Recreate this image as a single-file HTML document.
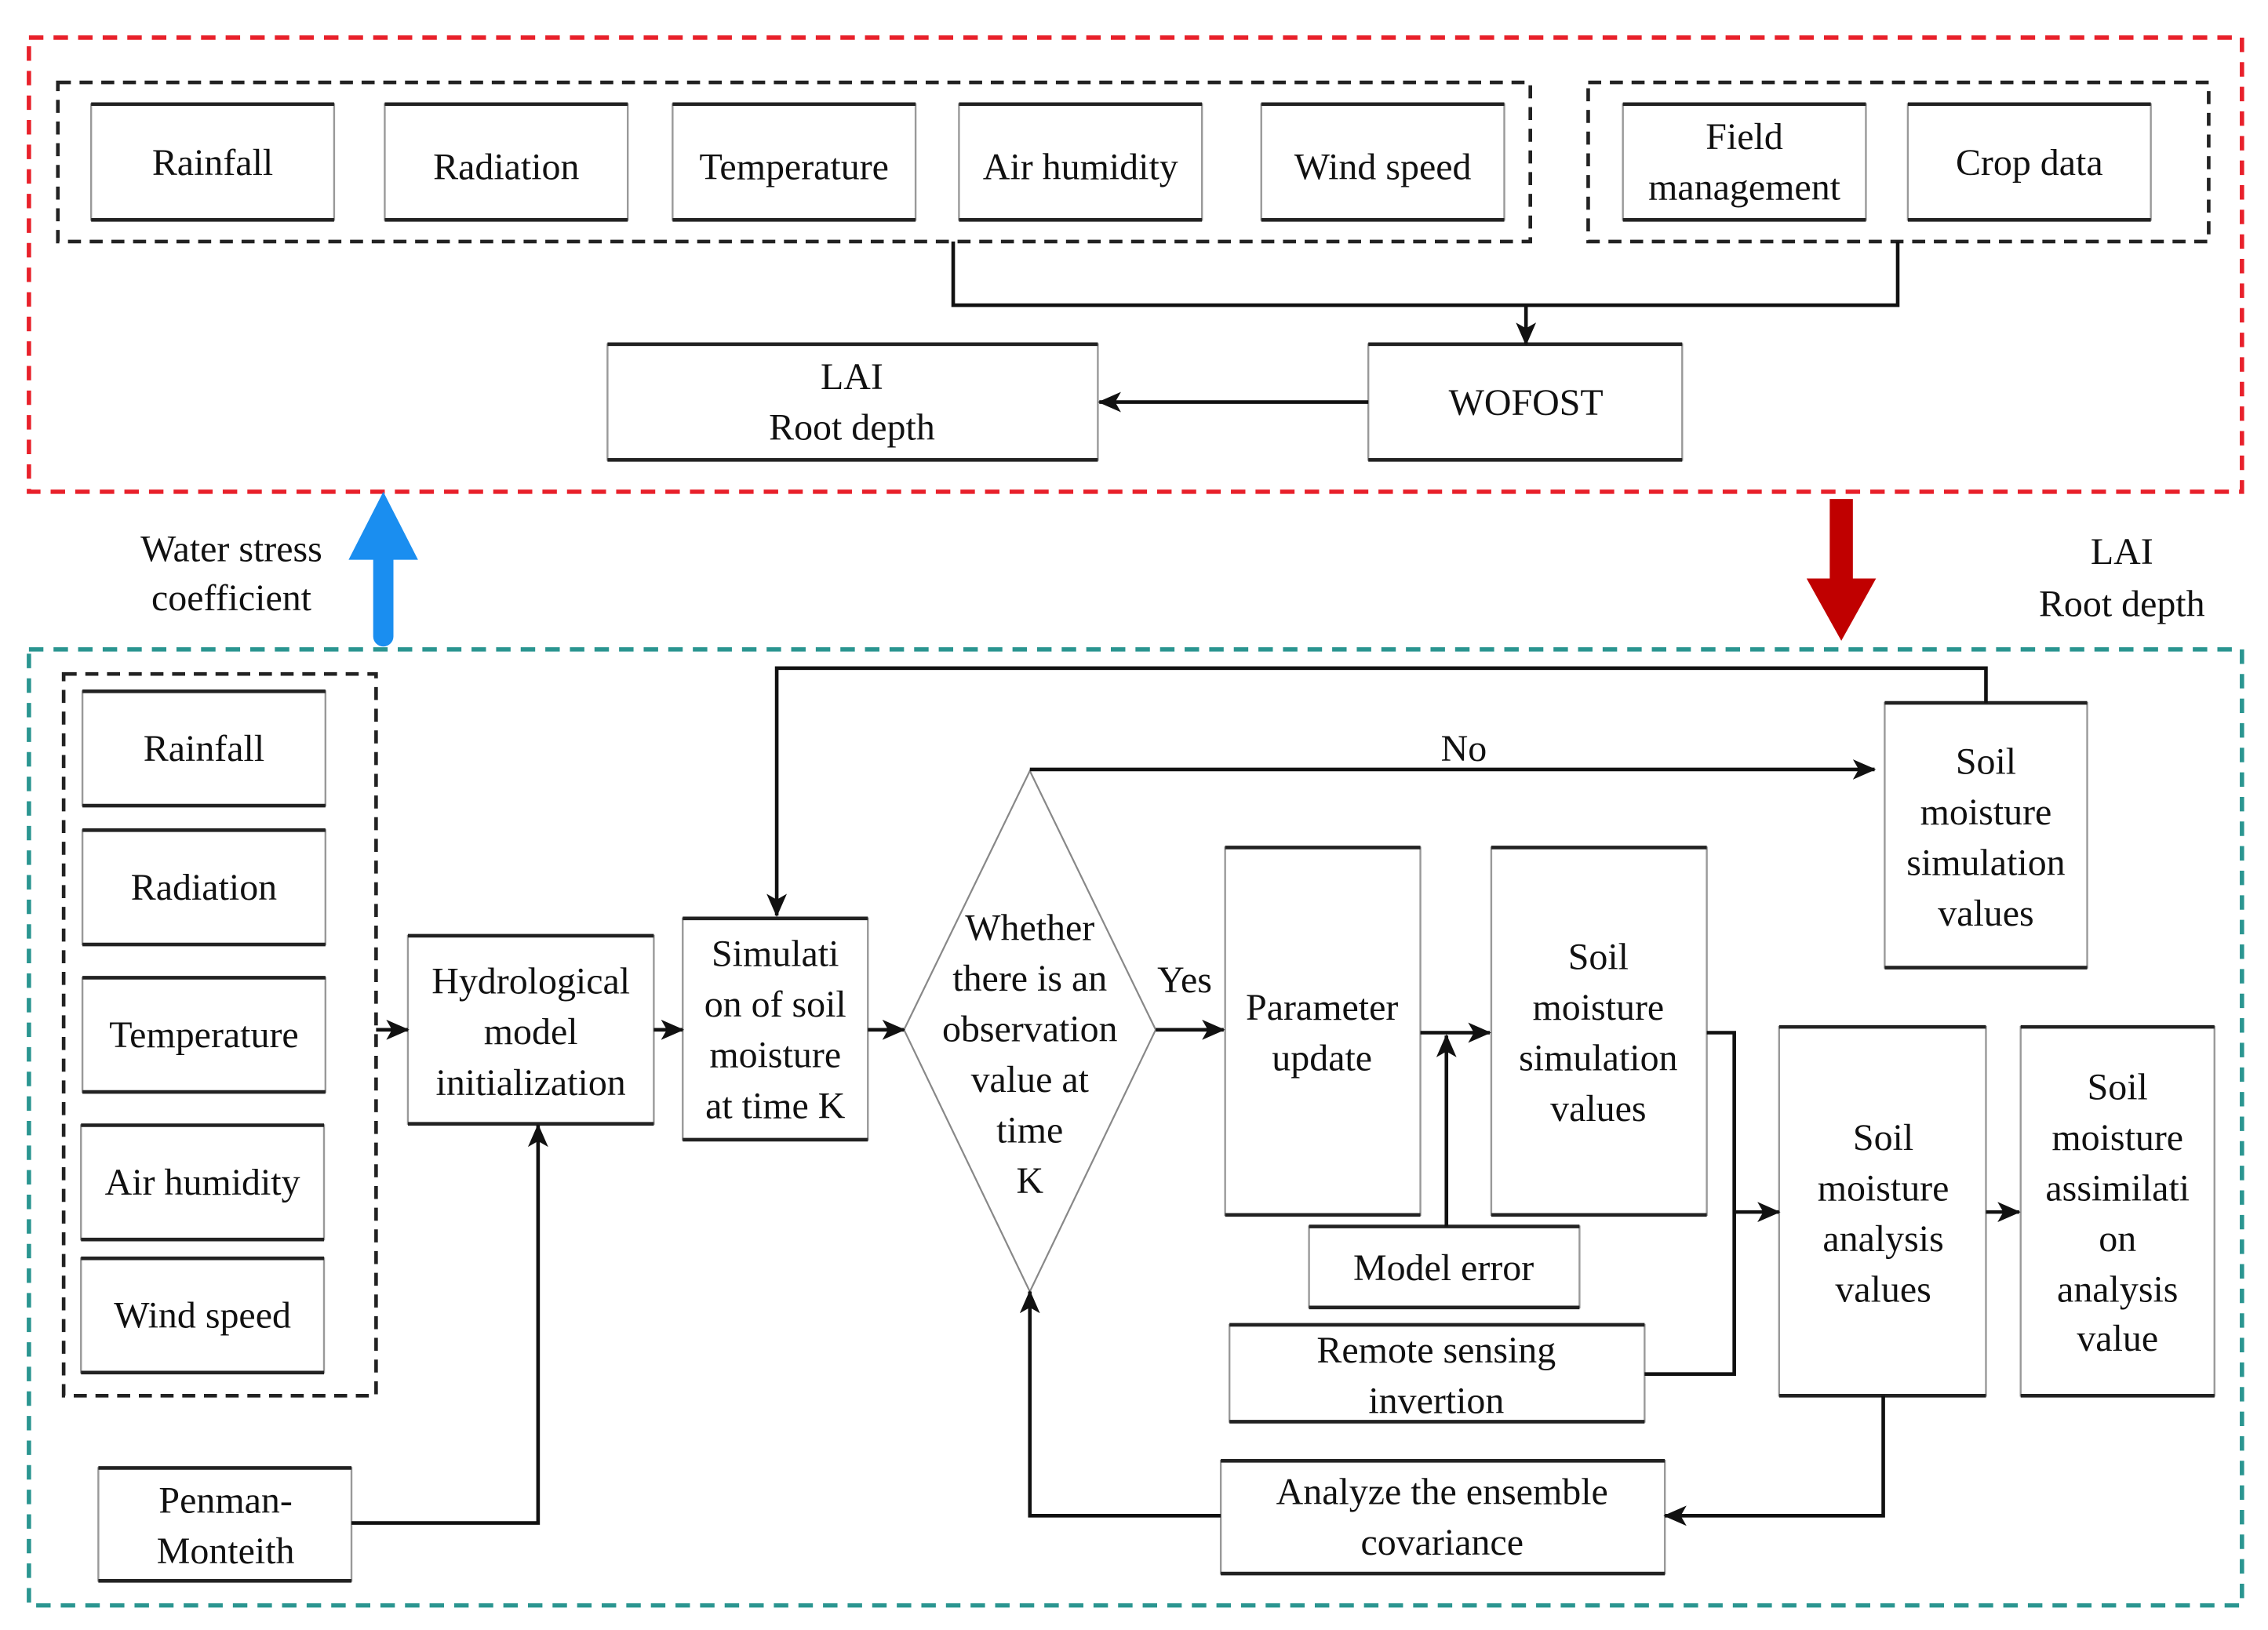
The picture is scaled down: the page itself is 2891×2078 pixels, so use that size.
<!DOCTYPE html>
<html><head><meta charset="utf-8"><style>html,body{margin:0;padding:0;background:#fff}svg{display:block}svg text{font-family:"Liberation Serif","DejaVu Serif",serif;font-size:26px;fill:#111}</style></head>
<body>
<svg width="2891" height="2078" viewBox="0 0 1568 1127" preserveAspectRatio="none" xmlns="http://www.w3.org/2000/svg">
<defs>
<marker id="a" markerUnits="userSpaceOnUse" markerWidth="16" markerHeight="14" refX="15" refY="7" orient="auto"><path d="M0,0 L16,7 L0,14 L4,7 Z" fill="#111"/></marker>
</defs>
<rect width="1568" height="1127" fill="#fff"/>
<rect x="20" y="26" width="1530" height="314" fill="none" stroke="#e8202a" stroke-width="3" stroke-dasharray="10,7"/>
<rect x="20" y="449" width="1530" height="661" fill="none" stroke="#2a9590" stroke-width="3" stroke-dasharray="10,7"/>
<g fill="none" stroke="#222" stroke-width="2.5" stroke-dasharray="9,6">
<rect x="40" y="57" width="1018" height="110"/>
<rect x="1098" y="57" width="429" height="110"/>
<rect x="44" y="466" width="216" height="499"/>
</g>
<g fill="#fff" stroke="#999" stroke-width="1.3">
<rect x="63" y="72" width="168" height="80"/><rect x="266" y="72" width="168" height="80"/><rect x="465" y="72" width="168" height="80"/><rect x="663" y="72" width="168" height="80"/><rect x="872" y="72" width="168" height="80"/><rect x="1122" y="72" width="168" height="80"/><rect x="1319" y="72" width="168" height="80"/>
<rect x="946" y="238" width="217" height="80"/><rect x="420" y="238" width="339" height="80"/>
<rect x="57" y="478" width="168" height="79"/><rect x="57" y="574" width="168" height="79"/><rect x="57" y="676" width="168" height="79"/><rect x="56" y="778" width="168" height="79"/><rect x="56" y="870" width="168" height="79"/>
<rect x="282" y="647" width="170" height="130"/><rect x="472" y="635" width="128" height="153"/>
<rect x="847" y="586" width="135" height="254"/><rect x="1031" y="586" width="149" height="254"/>
<rect x="905" y="848" width="187" height="56"/><rect x="850" y="916" width="287" height="67"/>
<rect x="1230" y="710" width="143" height="255"/><rect x="1397" y="710" width="134" height="255"/>
<rect x="844" y="1010" width="307" height="78"/><rect x="68" y="1015" width="175" height="78"/>
<rect x="1303" y="486" width="140" height="183"/>
</g>
<g stroke="#222" stroke-width="2.5">
<path d="M63 72h168M63 152h168M266 72h168M266 152h168M465 72h168M465 152h168M663 72h168M663 152h168M872 72h168M872 152h168M1122 72h168M1122 152h168M1319 72h168M1319 152h168M946 238h217M946 318h217M420 238h339M420 318h339M57 478h168M57 557h168M57 574h168M57 653h168M57 676h168M57 755h168M56 778h168M56 857h168M56 870h168M56 949h168M282 647h170M282 777h170M472 635h128M472 788h128M847 586h135M847 840h135M1031 586h149M1031 840h149M905 848h187M905 904h187M850 916h287M850 983h287M1230 710h143M1230 965h143M1397 710h134M1397 965h134M844 1010h307M844 1088h307M68 1015h175M68 1093h175M1303 486h140M1303 669h140"/>
</g>
<polygon points="712,533 799,712 712,893 625,712" fill="#fff" stroke="#888" stroke-width="1.2"/>
<g fill="none" stroke="#111" stroke-width="2.5">
<path d="M659 167V211H1312V167"/>
<path d="M1055 211V238" marker-end="url(#a)"/>
<path d="M946 278H760" marker-end="url(#a)"/>
<path d="M260 712H282" marker-end="url(#a)"/>
<path d="M452 712H472" marker-end="url(#a)"/>
<path d="M600 712H625" marker-end="url(#a)"/>
<path d="M799 712H846" marker-end="url(#a)"/>
<path d="M982 714H1030" marker-end="url(#a)"/>
<path d="M1000 848V716" marker-end="url(#a)"/>
<path d="M1137 950H1199V714H1180"/>
<path d="M1199 838H1230" marker-end="url(#a)"/>
<path d="M1373 838H1396" marker-end="url(#a)"/>
<path d="M1302 965V1048H1151" marker-end="url(#a)"/>
<path d="M844 1048H712V893" marker-end="url(#a)"/>
<path d="M243 1053H372V778" marker-end="url(#a)"/>
<path d="M1373 486V462H537V633" marker-end="url(#a)"/>
<path d="M712 532H1296" marker-end="url(#a)"/>
</g>
<path d="M265 440V380" stroke="#1a8ef0" stroke-width="14" stroke-linecap="round"/>
<polygon points="265,340 289,387 241,387" fill="#1a8ef0"/>
<path d="M1273 345V405" stroke="#c00000" stroke-width="16"/>
<polygon points="1273,443 1297,400 1249,400" fill="#c00000"/>
<g text-anchor="middle">
<text x="147" y="121">Rainfall</text><text x="350" y="124">Radiation</text><text x="549" y="124">Temperature</text><text x="747" y="124">Air humidity</text><text x="956" y="124">Wind speed</text>
<text x="1206" y="103">Field</text><text x="1206" y="138">management</text><text x="1403" y="121">Crop data</text>
<text x="1055" y="287">WOFOST</text>
<text x="589" y="269">LAI</text><text x="589" y="304">Root depth</text>
<text x="160" y="388">Water stress</text><text x="160" y="422">coefficient</text>
<text x="1467" y="390">LAI</text><text x="1467" y="426">Root depth</text>
<text x="141" y="526">Rainfall</text><text x="141" y="622">Radiation</text><text x="141" y="724">Temperature</text><text x="140" y="826">Air humidity</text><text x="140" y="918">Wind speed</text>
<text x="367" y="687">Hydrological</text><text x="367" y="722">model</text><text x="367" y="757">initialization</text>
<text x="536" y="668">Simulati</text><text x="536" y="703">on of soil</text><text x="536" y="738">moisture</text><text x="536" y="773">at time K</text>
<text x="712" y="650">Whether</text><text x="712" y="685">there is an</text><text x="712" y="720">observation</text><text x="712" y="755">value at</text><text x="712" y="790">time</text><text x="712" y="825">K</text>
<text x="819" y="686">Yes</text><text x="1012" y="526">No</text>
<text x="914" y="705">Parameter</text><text x="914" y="740">update</text>
<text x="1105" y="670">Soil</text><text x="1105" y="705">moisture</text><text x="1105" y="740">simulation</text><text x="1105" y="775">values</text>
<text x="1373" y="535">Soil</text><text x="1373" y="570">moisture</text><text x="1373" y="605">simulation</text><text x="1373" y="640">values</text>
<text x="998" y="885">Model error</text>
<text x="993" y="942">Remote sensing</text><text x="993" y="977">invertion</text>
<text x="1302" y="795">Soil</text><text x="1302" y="830">moisture</text><text x="1302" y="865">analysis</text><text x="1302" y="900">values</text>
<text x="1464" y="760">Soil</text><text x="1464" y="795">moisture</text><text x="1464" y="830">assimilati</text><text x="1464" y="865">on</text><text x="1464" y="900">analysis</text><text x="1464" y="934">value</text>
<text x="997" y="1040">Analyze the ensemble</text><text x="997" y="1075">covariance</text>
<text x="156" y="1046">Penman-</text><text x="156" y="1081">Monteith</text>
</g>
</svg>
</body></html>
